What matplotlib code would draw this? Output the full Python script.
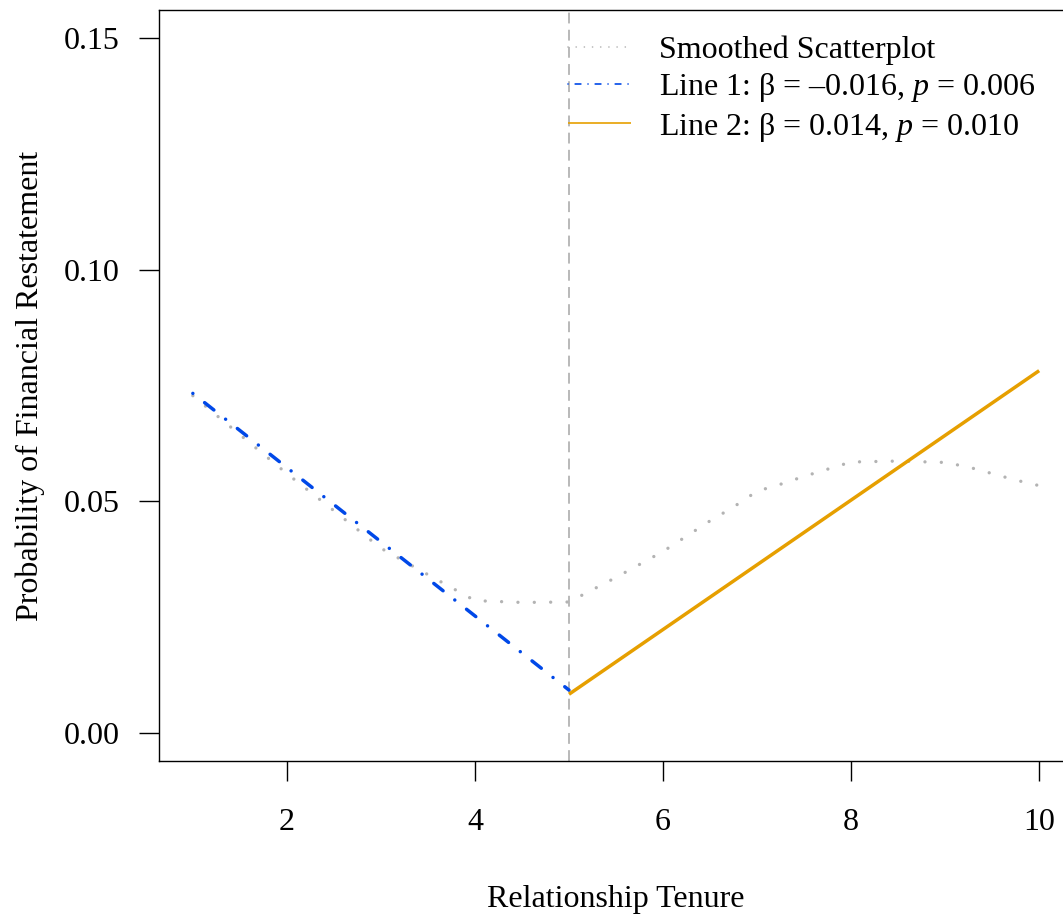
import numpy as np
import matplotlib.pyplot as plt

plt.rcParams['font.family'] = ['Liberation Serif', 'DejaVu Serif']
plt.rcParams['mathtext.fontset'] = 'custom'
plt.rcParams['mathtext.rm'] = 'Liberation Serif'
plt.rcParams['mathtext.it'] = 'Liberation Serif:italic'

# smoothed scatterplot
smooth_x = [1, 1.5, 2, 2.5, 3, 3.5, 4, 4.5, 5, 5.5, 6, 6.5, 6.75, 7, 7.25,
            7.5, 8, 8.5, 9, 9.25, 9.5, 9.75, 10]
smooth_y = [0.0728, 0.0644, 0.0560, 0.0480, 0.0399, 0.0342, 0.0286, 0.0282,
            0.0283, 0.0336, 0.0392, 0.0458, 0.0488, 0.0522, 0.0537,
            0.0554, 0.0585, 0.0587, 0.0584, 0.0574, 0.0560, 0.0546, 0.0534]

# piecewise regression lines
line1_x = [1, 5]
line1_y = [0.0733, 0.0093]
line2_x = [5, 10]
line2_y = [0.0084, 0.0782]
breakpoint = 5

xticks = [2, 4, 6, 8, 10]
yticks = [0.00, 0.05, 0.10, 0.15]
ytick_labels = ['0.00', '0.05', '0.10', '0.15']

lab_smooth = 'Smoothed Scatterplot'
lab_line1 = 'Line 1: β = –0.016, $p$ = 0.006'
lab_line2 = 'Line 2: β = 0.014, $p$ = 0.010'

W, H = 1063, 916
fig = plt.figure(figsize=(W / 100, H / 100), dpi=100)
ax = fig.add_axes([159 / W, (H - 761) / H, (1073 - 159) / W, (761 - 10) / H])

ax.axvline(breakpoint, color='#b3b3b3', lw=1.3, dashes=(6, 3.5))
ax.plot(smooth_x, smooth_y, color='#b3b3b3', lw=2.4, dash_capstyle='round',
        dashes=(0.01, 4.9), label=lab_smooth)
ax.plot(line1_x, line1_y, color='#0048e8', lw=2.5, dash_capstyle='round',
        dashes=(0.01, 4.3, 3.4, 4.3), label=lab_line1)
ax.plot(line2_x, line2_y, color='#e69f00', lw=2.5, solid_capstyle='butt',
        label=lab_line2)

ax.set_xlim(0.64, 10.36)
ax.set_ylim(-0.006, 0.156)
ax.set_xticks(xticks)
ax.set_yticks(yticks)
ax.set_yticklabels(ytick_labels)
ax.tick_params(labelsize=23, length=14.5, width=1.0, pad=14, color='black')
ax.tick_params(axis='x', pad=19)
for s in ax.spines.values():
    s.set_linewidth(1.0)

ax.set_xlabel('Relationship Tenure', fontsize=23, labelpad=35)
ax.set_ylabel('Probability of Financial Restatement', fontsize=23, labelpad=13)

leg = ax.legend(loc='upper left', bbox_to_anchor=(387 / 914, 1 - 3 / 751),
                frameon=False, fontsize=23, handlelength=1.95,
                handletextpad=0.9, labelspacing=0.2, borderaxespad=0.3)
# legend samples are drawn thinner than the plotted lines
for ln in leg.get_lines():
    ln.set_linewidth(1.2)

fig.savefig('out.png', dpi=100)
